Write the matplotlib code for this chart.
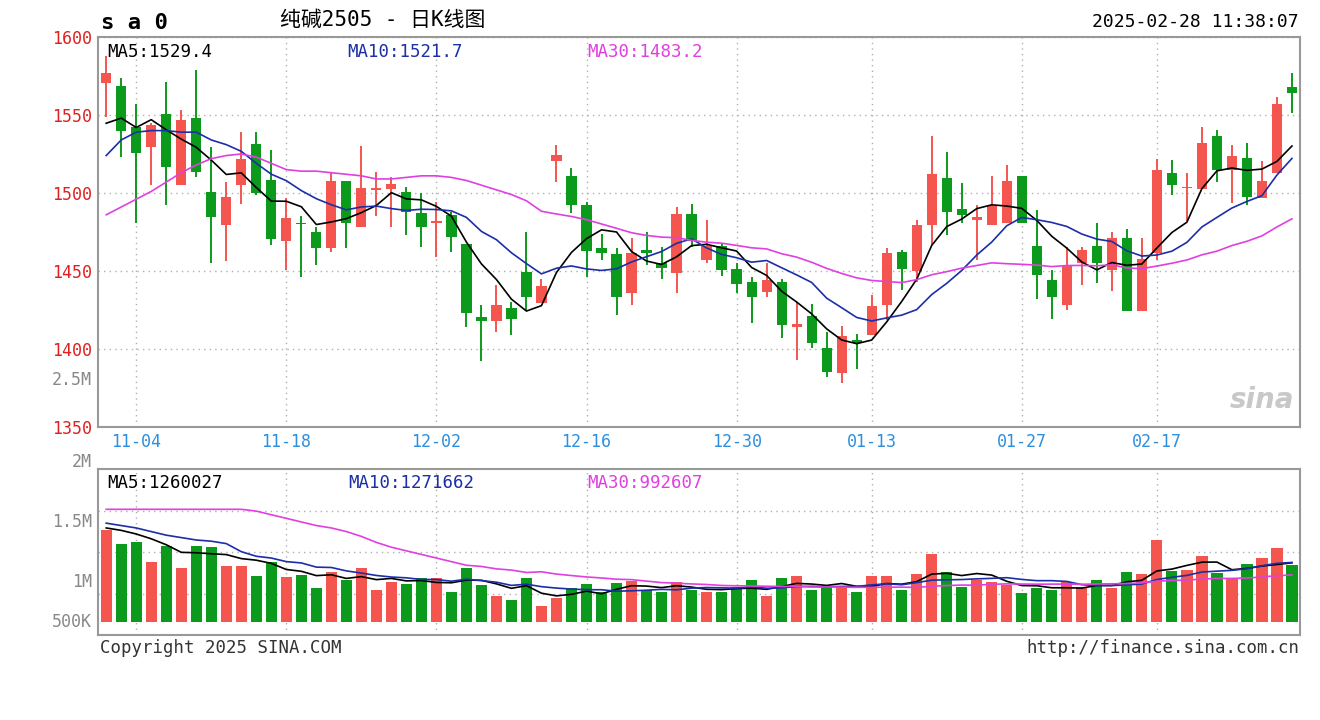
import matplotlib
matplotlib.use('Agg')
import matplotlib.pyplot as plt
import numpy as np
import pandas as pd

# OHLC (80 trading days)
opens = [1570.7, 1568.6, 1542.5, 1529.7, 1550.6, 1505.0, 1547.9, 1500.4, 1479.5, 1505.0,
         1531.4, 1508.3, 1469.2, 1481.0, 1475.0, 1465.0, 1508.0, 1478.4, 1502.0, 1502.4,
         1500.4, 1487.0, 1481.0, 1486.0, 1467.0, 1420.7, 1418.0, 1426.0, 1449.6, 1429.3,
         1520.7, 1511.0, 1492.0, 1464.5, 1461.0, 1435.7, 1463.5, 1455.0, 1448.5, 1486.3,
         1457.0, 1466.0, 1451.0, 1443.0, 1436.8, 1443.0, 1414.0, 1421.0, 1400.4, 1384.4,
         1405.8, 1409.0, 1428.2, 1462.4, 1450.2, 1479.5, 1509.4, 1490.0, 1483.0, 1479.5,
         1480.6, 1511.0, 1466.0, 1444.0, 1428.2, 1455.3, 1466.0, 1450.6, 1471.0, 1424.6,
         1461.3, 1513.0, 1503.0, 1502.4, 1536.5, 1515.0, 1522.2, 1496.6, 1513.0, 1568.0]
closes = [1576.7, 1540.0, 1525.4, 1543.6, 1516.9, 1546.8, 1513.7, 1484.4, 1497.6, 1522.0,
          1499.8, 1470.3, 1483.8, 1480.0, 1465.0, 1508.0, 1481.0, 1503.0, 1503.0, 1506.0,
          1488.0, 1478.0, 1482.0, 1471.6, 1423.0, 1418.0, 1428.0, 1419.0, 1433.5, 1440.4,
          1524.4, 1492.3, 1463.0, 1461.8, 1433.5, 1461.8, 1461.8, 1452.0, 1486.3, 1469.4,
          1466.0, 1450.6, 1441.7, 1433.5, 1444.0, 1415.4, 1416.0, 1403.6, 1385.5, 1408.3,
          1403.6, 1427.6, 1461.8, 1451.0, 1479.5, 1512.0, 1488.0, 1486.0, 1484.4, 1491.7,
          1508.0, 1480.6, 1447.4, 1433.5, 1453.8, 1463.5, 1455.3, 1471.0, 1424.6, 1458.0,
          1514.7, 1505.0, 1504.0, 1532.3, 1515.0, 1523.7, 1497.6, 1508.0, 1557.0, 1564.3]
highs = [1588.0, 1573.5, 1557.0, 1544.7, 1571.0, 1553.0, 1578.8, 1529.7, 1507.0, 1539.0,
         1539.0, 1527.6, 1496.6, 1485.0, 1478.0, 1513.7, 1508.0, 1530.0, 1513.7, 1510.5,
         1504.0, 1500.0, 1494.4, 1488.0, 1467.0, 1428.0, 1441.0, 1430.0, 1475.0, 1445.0,
         1531.0, 1516.0, 1494.0, 1474.0, 1465.0, 1471.0, 1475.0, 1465.6, 1491.0, 1493.0,
         1483.0, 1468.0, 1455.0, 1446.0, 1455.0, 1445.0, 1430.0, 1429.0, 1411.0, 1414.7,
         1409.6, 1434.6, 1464.5, 1463.5, 1482.7, 1536.5, 1526.0, 1506.6, 1492.0, 1511.0,
         1518.0, 1511.0, 1489.0, 1450.6, 1465.6, 1465.6, 1481.0, 1475.0, 1477.0, 1471.0,
         1522.0, 1521.0, 1513.0, 1542.5, 1540.4, 1530.8, 1532.3, 1520.7, 1561.8, 1577.0]
lows = [1549.0, 1523.0, 1481.0, 1505.0, 1492.0, 1505.0, 1510.5, 1455.0, 1456.6, 1493.0,
        1499.0, 1466.7, 1450.6, 1446.0, 1454.0, 1462.0, 1465.0, 1478.4, 1485.0, 1478.4,
        1473.0, 1465.6, 1459.0, 1462.4, 1414.0, 1392.0, 1411.0, 1409.0, 1425.0, 1429.3,
        1507.0, 1487.0, 1446.4, 1457.0, 1421.8, 1428.0, 1454.0, 1445.0, 1435.7, 1465.6,
        1455.0, 1447.0, 1435.7, 1416.5, 1433.5, 1407.0, 1393.0, 1400.4, 1382.0, 1378.0,
        1387.0, 1409.0, 1418.6, 1437.8, 1443.0, 1466.7, 1473.0, 1481.0, 1457.0, 1479.5,
        1480.6, 1480.6, 1431.8, 1419.0, 1425.0, 1441.0, 1442.0, 1437.0, 1424.6, 1424.6,
        1457.0, 1498.7, 1482.0, 1502.4, 1507.0, 1493.4, 1492.3, 1496.6, 1513.0, 1551.0]
# volume in millions of lots
volume = [1.433, 1.317, 1.336, 1.167, 1.300, 1.117, 1.300, 1.294, 1.133, 1.133,
          1.050, 1.169, 1.039, 1.058, 0.953, 1.086, 1.017, 1.114, 0.933, 1.003,
          0.983, 1.031, 1.036, 0.919, 1.114, 0.975, 0.883, 0.850, 1.031, 0.800,
          0.864, 0.947, 0.983, 0.919, 0.989, 1.011, 0.933, 0.919, 0.997, 0.933,
          0.919, 0.919, 0.961, 1.017, 0.883, 1.036, 1.050, 0.933, 0.961, 0.961,
          0.919, 1.050, 1.050, 0.933, 1.067, 1.233, 1.083, 0.956, 1.017, 1.003,
          0.975, 0.906, 0.947, 0.933, 1.003, 0.961, 1.017, 0.947, 1.083, 1.067,
          1.350, 1.094, 1.100, 1.217, 1.072, 1.031, 1.150, 1.197, 1.281, 1.142]

# moving-average values at the start of the window (they depend on days before it),
# read off the picture
ma5_head = [1544.7, 1548.0, 1542.0, 1547.0]
ma10_head = [1524.0, 1534.0, 1539.0, 1540.0, 1540.0, 1539.0, 1539.0, 1534.0, 1531.0]
ma30_head = [1486, 1491, 1496, 1501, 1507, 1513, 1518, 1522, 1524, 1525,
             1523, 1519, 1515, 1514, 1514, 1513, 1512, 1511, 1509, 1509,
             1510, 1511, 1511, 1510, 1508, 1505, 1502, 1499, 1495]
vma5_head = [1.45, 1.43, 1.40, 1.36]
vma10_head = [1.49, 1.47, 1.45, 1.42, 1.39, 1.37, 1.35, 1.34, 1.32]
vma30_head = [1.605, 1.605, 1.605, 1.605, 1.605, 1.605, 1.605, 1.605, 1.605, 1.605,
              1.59, 1.56, 1.53, 1.50, 1.47, 1.45, 1.42, 1.38, 1.33, 1.29,
              1.26, 1.23, 1.20, 1.17, 1.14, 1.13, 1.11, 1.10, 1.08]

tick_idx = [2, 12, 22, 32, 42, 51, 61, 70]
tick_labels = ['11-04', '11-18', '12-02', '12-16', '12-30', '01-13', '01-27', '02-17']

RED = '#f4554f'
GREEN = '#0c9a1c'
GRID = '#b0b0b0'
TICK_BLUE = '#2c8fe0'
MA10_C = '#1c2ea8'
MA30_C = '#e040e0'
MONO = ['DejaVu Sans Mono', 'Noto Sans CJK SC']


def moving_avg(values, n, head):
    ma = pd.Series(values).rolling(n).mean().to_numpy()
    ma[:len(head)] = head
    return ma


df = pd.DataFrame({'o': opens, 'c': closes, 'h': highs, 'l': lows, 'v': volume})
df['ma5'] = moving_avg(closes, 5, ma5_head)
df['ma10'] = moving_avg(closes, 10, ma10_head)
df['ma30'] = moving_avg(closes, 30, ma30_head)
df['vma5'] = moving_avg(volume, 5, vma5_head)
df['vma10'] = moving_avg(volume, 10, vma10_head)
df['vma30'] = moving_avg(volume, 30, vma30_head)
x = np.arange(len(df))
up = df['c'] >= df['o']
colors = np.where(up, RED, GREEN)

fig = plt.figure(figsize=(13.2, 7.2), dpi=100)
ax1 = fig.add_axes([0.0742, 0.407, 0.9108, 0.5416])
ax2 = fig.add_axes([0.0742, 0.118, 0.9108, 0.2306])

# candles
ax1.vlines(x, df['l'], df['h'], colors=colors, linewidth=1.4, zorder=3)
body_lo = np.minimum(df['o'], df['c'])
body_h = np.maximum(np.abs(df['c'] - df['o']), 0.8)
ax1.bar(x, body_h, bottom=body_lo, width=0.68, color=colors, zorder=4)
ax1.plot(x, df['ma5'], color='black', lw=1.2, zorder=5)
ax1.plot(x, df['ma10'], color=MA10_C, lw=1.2, zorder=5)
ax1.plot(x, df['ma30'], color=MA30_C, lw=1.2, zorder=5)

ax1.set_xlim(-0.55, 79.55)
ax1.set_ylim(1350, 1600)
ax1.set_yticks([1350, 1400, 1450, 1500, 1550, 1600])
ax1.tick_params(axis='y', length=0, labelsize=12, labelcolor='#e02020', pad=4)
for lab in ax1.get_yticklabels():
    lab.set_family(MONO)
ax1.text(-0.005, 0.12, '2.5M', transform=ax1.transAxes, ha='right', va='center',
         fontsize=12, color='#888888', family=MONO)
ax1.set_xticks(tick_idx)
ax1.set_xticklabels(tick_labels, family=MONO, fontsize=12, color=TICK_BLUE)
ax1.tick_params(axis='x', length=0, pad=4)
ax1.grid(True, color=GRID, linestyle=(0, (1, 3)), lw=1)

ax1.text(0.008, 0.985, 'MA5:1529.4', transform=ax1.transAxes, va='top', fontsize=12.5,
         color='black', family=MONO)
ax1.text(0.207, 0.985, 'MA10:1521.7', transform=ax1.transAxes, va='top', fontsize=12.5,
         color=MA10_C, family=MONO)
ax1.text(0.407, 0.985, 'MA30:1483.2', transform=ax1.transAxes, va='top', fontsize=12.5,
         color=MA30_C, family=MONO)
ax1.text(0.995, 0.07, 'sina', transform=ax1.transAxes, ha='right', va='center', fontsize=20,
         color='#c8c8c8', style='italic', weight='bold', zorder=1)

# volume
ax2.bar(x, df['v'] - 0.669, bottom=0.669, width=0.75, color=colors, zorder=3)
ax2.plot(x, df['vma5'], color='black', lw=1.2, zorder=4)
ax2.plot(x, df['vma10'], color=MA10_C, lw=1.2, zorder=4)
ax2.plot(x, df['vma30'], color=MA30_C, lw=1.2, zorder=4)
ax2.set_xlim(-0.55, 79.55)
ax2.set_ylim(0.56, 1.94)
ax2.set_xticks(tick_idx)
ax2.set_xticklabels([])
ax2.tick_params(axis='both', length=0)
ax2.set_yticks([0.56 + 1.38 * f for f in (0.25, 0.5, 0.75)])
ax2.set_yticklabels([])
ax2.grid(True, color=GRID, linestyle=(0, (1, 3)), lw=1)
for val, lab in [(2.0, '2M'), (1.5, '1.5M'), (1.0, '1M'), (0.669, '500K')]:
    ax2.text(-0.005, val, lab, transform=ax2.get_yaxis_transform(), ha='right', va='center',
             fontsize=12, color='#888888', family=MONO, clip_on=False)
ax2.text(0.008, 0.97, 'MA5:1260027', transform=ax2.transAxes, va='top', fontsize=12.5,
         color='black', family=MONO)
ax2.text(0.208, 0.97, 'MA10:1271662', transform=ax2.transAxes, va='top', fontsize=12.5,
         color=MA10_C, family=MONO)
ax2.text(0.407, 0.97, 'MA30:992607', transform=ax2.transAxes, va='top', fontsize=12.5,
         color=MA30_C, family=MONO)

for ax in (ax1, ax2):
    for s in ax.spines.values():
        s.set_color('#999999')
        s.set_linewidth(1.5)

# header and footer
fig.text(0.0765, 0.968, 's a 0', fontsize=16, weight='bold', family=MONO, va='center')
fig.text(0.212, 0.972, '纯碱2505 - 日K线图', fontsize=15, family=MONO, va='center')
fig.text(0.984, 0.97, '2025-02-28 11:38:07', fontsize=13, family=MONO, ha='right', va='center')
fig.text(0.0755, 0.1, 'Copyright 2025 SINA.COM', fontsize=12.5, family=MONO, color='#333333',
         va='center')
fig.text(0.984, 0.1, 'http://finance.sina.com.cn', fontsize=12.5, family=MONO, color='#333333',
         ha='right', va='center')

fig.savefig('out.png', dpi=100, facecolor='white')
